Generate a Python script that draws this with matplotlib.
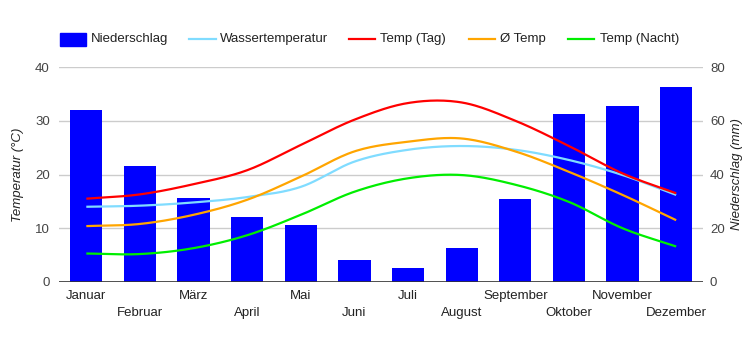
import numpy as np
import matplotlib
matplotlib.use("Agg")
import matplotlib.pyplot as plt
from matplotlib.lines import Line2D
from matplotlib.patches import Rectangle
from matplotlib.transforms import blended_transform_factory

months = ["Januar", "Februar", "März", "April", "Mai", "Juni", "Juli",
          "August", "September", "Oktober", "November", "Dezember"]
niederschlag = [64, 43.2, 31.3, 24.3, 21.2, 8.2, 5.2, 12.6, 30.9, 62.5, 65.5, 72.6]
wassertemp = [14.0, 14.2, 14.8, 15.8, 17.7, 22.4, 24.6, 25.3, 24.6, 22.7, 19.9, 16.2]
temp_tag = [15.5, 16.3, 18.2, 20.8, 25.5, 30.2, 33.3, 33.4, 30.0, 25.3, 20.2, 16.5]
temp_avg = [10.4, 10.8, 12.5, 15.3, 19.6, 24.3, 26.1, 26.7, 24.3, 20.5, 16.2, 11.5]
temp_nacht = [5.3, 5.2, 6.3, 8.7, 12.5, 16.8, 19.3, 19.9, 18.1, 14.9, 10.0, 6.6]

FONT = "Liberation Sans"
plt.rcParams["font.family"] = [FONT, "DejaVu Sans"]
TXT = "#444444"


def smooth(y, n=24):
    y = np.asarray(y, dtype=float)
    x = np.arange(len(y), dtype=float)
    p = np.concatenate([[2 * y[0] - y[1]], y, [2 * y[-1] - y[-2]]])
    xs, ys = [], []
    for i in range(len(y) - 1):
        p0, p1, p2, p3 = p[i], p[i + 1], p[i + 2], p[i + 3]
        t = np.linspace(0, 1, n, endpoint=(i == len(y) - 2))
        yy = 0.5 * ((2 * p1) + (-p0 + p2) * t + (2 * p0 - 5 * p1 + 4 * p2 - p3) * t ** 2
                    + (-p0 + 3 * p1 - 3 * p2 + p3) * t ** 3)
        xs.append(x[i] + t)
        ys.append(yy)
    return np.concatenate(xs), np.concatenate(ys)


W, H = 749, 350
fig = plt.figure(figsize=(W / 100, H / 100), dpi=100)
L, R, T, B = 59.5, 703, 67, 282
rect = [L / W, 1 - B / H, (R - L) / W, (B - T) / H]

ax2 = fig.add_axes(rect)  # precipitation (bottom layer)
ax = ax2.twinx()          # temperature (top layer)
ax2.set_zorder(0)
ax.set_zorder(1)
ax.patch.set_visible(False)

x = np.arange(len(months))
ax2.bar(x, niederschlag, width=0.6, color="#0000ff", zorder=2)
ax2.set_ylim(0, 80)
ax2.set_xlim(-0.5, 11.5)
ax2.set_yticks([0, 20, 40, 60, 80])
ax2.grid(axis="y", color="#cccccc", linewidth=1)
ax2.set_axisbelow(True)
ax2.yaxis.tick_right()
ax2.yaxis.set_label_position("right")
ax2.tick_params(axis="y", length=0, pad=5, labelsize=9.5, labelcolor=TXT)
ax2.set_xticks([])
for s in ax2.spines.values():
    s.set_visible(False)

for vals, col in [(wassertemp, "#80dcff"), (temp_tag, "#ff0000"),
                  (temp_avg, "#ffa500"), (temp_nacht, "#00ee00")]:
    xs, ys = smooth(vals)
    ax.plot(xs, ys, color=col, linewidth=1.6, solid_capstyle="butt", zorder=3)

ax.set_ylim(0, 40)
ax.set_xlim(-0.5, 11.5)
ax.set_yticks([0, 10, 20, 30, 40])
ax.yaxis.tick_left()
ax.yaxis.set_label_position("left")
ax.tick_params(axis="y", length=0, pad=7, labelsize=9.5, labelcolor=TXT)
ax.set_xticks([])
for s in ax.spines.values():
    s.set_visible(False)
ax.axhline(0, color="#333333", linewidth=1.2, zorder=4)

tr = blended_transform_factory(ax.transData, ax.transAxes)
for i, m in enumerate(months):
    yy = -14 / 215 if i % 2 == 0 else -31 / 215
    ax.text(i, yy, m, transform=tr, ha="center", va="center",
            fontsize=9.5, color="#222222")

fig.text(18 / W, 1 - 174.5 / H, "Temperatur (°C)", rotation=90, ha="center",
         va="center", fontsize=9.5, style="italic", color="#222222")
fig.text(737 / W, 1 - 174.5 / H, "Niederschlag (mm)", rotation=90, ha="center",
         va="center", fontsize=9.5, style="italic", color="#222222")

# legend
ly = 1 - 39 / H
fig.add_artist(Rectangle((60 / W, 1 - 45.5 / H), 26 / W, 13 / H,
                         transform=fig.transFigure, color="#0000ff"))
fig.text(91 / W, ly, "Niederschlag", ha="left", va="center", fontsize=9.5, color="#222222")
legend_items = [(189.5, 220, "#80dcff", "Wassertemperatur"),
                (349, 380, "#ff0000", "Temp (Tag)"),
                (469, 500, "#ffa500", "Ø Temp"),
                (568, 600, "#00ee00", "Temp (Nacht)")]
for x0, tx, col, lab in legend_items:
    fig.add_artist(Line2D([x0 / W, (x0 + 26) / W], [ly, ly], transform=fig.transFigure,
                          color=col, linewidth=1.6))
    fig.text(tx / W, ly, lab, ha="left", va="center", fontsize=9.5, color="#222222")

fig.savefig("out.png", dpi=100)
